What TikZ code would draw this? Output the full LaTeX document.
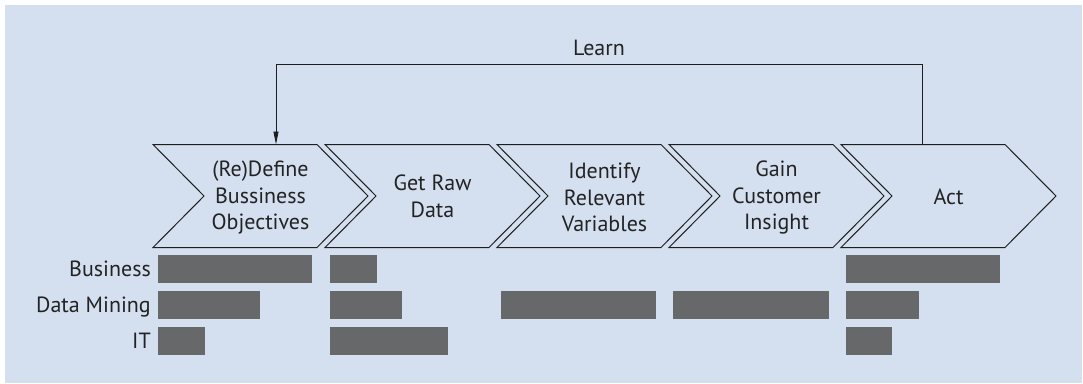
\documentclass[tikz,border=0pt]{standalone}
\usepackage{fontspec}
\setmainfont{PT Sans}
\usetikzlibrary{arrows.meta}
\definecolor{bgblue}{RGB}{212,223,240}
\definecolor{bargray}{RGB}{103,104,105}
\definecolor{linec}{RGB}{30,30,30}
\definecolor{textc}{RGB}{35,35,35}
\begin{document}
\begin{tikzpicture}[x=1pt,y=-1pt,
  chev/.style={draw=linec, line width=1pt, fill=bgblue, line join=miter},
  steptext/.style={align=center, text=textc, inner sep=0pt, font=\fontsize{22}{26.8}\selectfont},
  rowlabel/.style={anchor=base east, text=textc, inner sep=0pt, font=\fontsize{22}{26}\selectfont},
  bar/.style={fill=bargray},
  learnline/.style={draw=linec, line width=0.9pt, -{Triangle[length=13pt,width=5pt]}}]
\useasboundingbox (0,0) rectangle (1083,383);
\fill[bgblue] (5,5) rectangle (1082,383);
% chevrons
\foreach \i in {0,...,4}{
  \pgfmathsetmacro{\L}{153+172*\i}
  \draw[chev] (\L,144.5) -- ++(164,0) -- ++(51,51.5) -- ++(-51,51.5) -- ++(-164,0) -- ++(51,-51.5) -- cycle;
}
% step texts
\node[steptext] (s1) at (260.5,197.5) {(Re)Define\\Bussiness\\Objectives};
\node[steptext] (s2) at (432.5,196.5) {Get Raw\\Data};
\node[steptext] (s3) at (604.5,197.5) {Identify\\Relevant\\Variables};
\node[steptext] (s4) at (776.5,197.5) {Gain\\Customer\\Insight};
\node[steptext] (s5) at (948.5,196.5) {Act};
% learn loop
\coordinate (actTop) at (922,144.5);
\coordinate (defTop) at (276,144.5);
\node[steptext] (learn) at (599,48) {Learn};
\draw[learnline] (actTop) -- (922,64) -| (defTop);
% row labels
\node[rowlabel] (business) at (151,276) {Business};
\node[rowlabel] (datamining) at (151,312) {Data Mining};
\node[rowlabel] (it) at (151,348) {IT};
% bars: Business
\fill[bar] (158,255) rectangle (312,283);
\fill[bar] (330,255) rectangle (377,283);
\fill[bar] (846,255) rectangle (1000,283);
% bars: Data Mining
\fill[bar] (158,291) rectangle (260,319);
\fill[bar] (330,291) rectangle (402,319);
\fill[bar] (501,291) rectangle (656,319);
\fill[bar] (673,291) rectangle (829,319);
\fill[bar] (846,291) rectangle (919,319);
% bars: IT
\fill[bar] (158,327) rectangle (205,355);
\fill[bar] (330,327) rectangle (448,355);
\fill[bar] (846,327) rectangle (892,355);
\end{tikzpicture}
\end{document}
